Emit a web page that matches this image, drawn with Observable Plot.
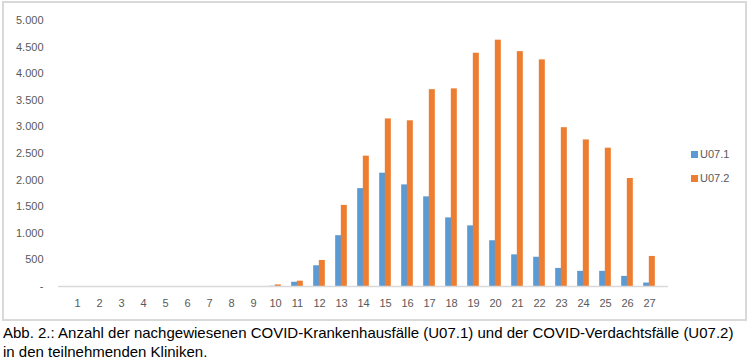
<!DOCTYPE html>
<html><head><meta charset="utf-8">
<script src="https://cdn.jsdelivr.net/npm/d3@7"></script>
<script src="https://cdn.jsdelivr.net/npm/@observablehq/plot@0.6"></script>
<style>
body{margin:0;width:750px;height:363px;position:relative;background:#fff;overflow:hidden;font-family:"Liberation Sans",Arial,sans-serif}
#frame{position:absolute;left:2px;top:1px;width:745px;height:320px;border:2px solid #d9d9d9;box-sizing:border-box}
#chart{position:absolute;left:0;top:0}
#legend{position:absolute;left:691px;top:142px;font-size:11px;color:#595959;line-height:24px}
#legend .sw{display:inline-block;width:7px;height:7px;margin-right:2px;vertical-align:0px}
#caption{position:absolute;left:3px;top:323px;font-family:"Liberation Sans Narrow","Liberation Sans",sans-serif;font-size:15px;line-height:19px;color:#000;white-space:nowrap}
</style>
</head><body>
<div id="frame"></div>
<div id="chart"></div>
<div id="legend"></div>
<div id="caption"></div>
<script>
const weeks = [1,2,3,4,5,6,7,8,9,10,11,12,13,14,15,16,17,18,19,20,21,22,23,24,25,26,27];
const u071 = [0,0,0,0,0,0,0,0,0,5,80,390,955,1840,2130,1910,1685,1290,1140,860,595,550,340,285,285,190,65];
const u072 = [0,0,0,0,0,0,0,0,0,30,100,490,1525,2450,3150,3115,3700,3715,4385,4630,4415,4260,2985,2755,2600,2030,565];
const seriesNames = ["U07.1","U07.2"];
const seriesColors = ["#5B9BD5","#ED7D31"];
const yTicks = [0,500,1000,1500,2000,2500,3000,3500,4000,4500,5000];
const captionLines = ["Abb. 2.: Anzahl der nachgewiesenen COVID-Krankenhausfälle (U07.1) und der COVID-Verdachtsfälle (U07.2)","in den teilnehmenden Kliniken."];

const t1 = weeks.map((w,i)=>({week:w, value:u071[i]}));
const t2 = weeks.map((w,i)=>({week:w, value:u072[i]}));
const fmt = v => v === 0 ? "-" : d3.format(",")(v).replace(/,/g,".");

const chart = Plot.plot({
  width: 750, height: 322,
  marginLeft: 58, marginRight: 82, marginTop: 20, marginBottom: 36,
  style: {fontFamily: "Liberation Sans, Arial, sans-serif", fontSize: "11px", color: "#595959", background: "transparent"},
  x: {type: "band", domain: weeks, paddingInner: 0.75, paddingOuter: 0.375, label: null, tickSize: 0, tickPadding: 13},
  y: {domain: [0,5000], ticks: yTicks, tickFormat: fmt, label: null, tickSize: 0, tickPadding: 15},
  marks: [
    Plot.barY(t1, {x: "week", y: "value", fill: seriesColors[0], dx: -2.83}),
    Plot.barY(t2, {x: "week", y: "value", fill: seriesColors[1], dx: 2.83}),
    Plot.ruleY([0], {stroke: "#d9d9d9", strokeWidth: 1.5})
  ]
});
document.getElementById("chart").appendChild(chart);

const leg = document.getElementById("legend");
seriesNames.forEach((n,i)=>{
  const d = document.createElement("div");
  d.innerHTML = `<span class="sw" style="background:${seriesColors[i]}"></span>${n}`;
  leg.appendChild(d);
});
const cap = document.getElementById("caption");
captionLines.forEach(l=>{ const d=document.createElement("div"); d.textContent=l; cap.appendChild(d); });
</script>
</body></html>
